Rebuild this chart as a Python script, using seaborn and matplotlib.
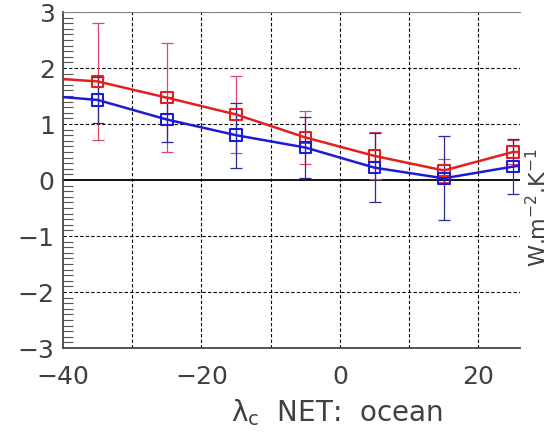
import matplotlib
matplotlib.use("Agg")
import matplotlib.pyplot as plt
import seaborn as sns
import pandas as pd
import numpy as np
from matplotlib.ticker import MultipleLocator

# ---- data ----
x_centers = [-35, -25, -15, -5, 5, 15, 25]
red_vals = [1.76, 1.47, 1.17, 0.76, 0.43, 0.17, 0.50]
red_err = [1.05, 0.97, 0.68, 0.47, 0.42, 0.20, 0.21]
blue_vals = [1.43, 1.08, 0.80, 0.58, 0.22, 0.03, 0.24]
blue_err = [0.41, 0.41, 0.58, 0.55, 0.62, 0.75, 0.49]
# points outside the visible window that the lines run to
x_outer = [-45, 35]
red_outer = [1.845, 0.50]
blue_outer = [1.53, 0.40]

x_ticks = [-40, -20, 0, 20]
y_ticks = [-3, -2, -1, 0, 1, 2, 3]

RED = "#e32020"
BLUE = "#1c1cd6"
RED_ERR = "#e0456a"
BLUE_ERR = "#2b2b95"
TXT = "#404040"

sns.set_theme(style="white")
plt.rcParams["font.family"] = ["DejaVu Sans"]
plt.rcParams["mathtext.fontset"] = "dejavusans"

line_x = [x_outer[0]] + x_centers + [x_outer[1]]
df_lines = pd.DataFrame({
    "x": line_x * 2,
    "y": [red_outer[0]] + red_vals + [red_outer[1]] + [blue_outer[0]] + blue_vals + [blue_outer[1]],
    "series": ["red"] * len(line_x) + ["blue"] * len(line_x),
})
df_pts = pd.DataFrame({
    "x": x_centers * 2,
    "y": red_vals + blue_vals,
    "err": red_err + blue_err,
    "series": ["red"] * len(x_centers) + ["blue"] * len(x_centers),
})

fig = plt.figure(figsize=(5.51, 4.33), dpi=100)
ax = fig.add_axes([63 / 551, 85 / 433, 457 / 551, 336 / 433])

# grid
for gx in [-30, -20, -10, 0, 10, 20]:
    ax.axvline(gx, color="black", lw=0.8, ls=(0, (3, 2)), zorder=1)
for gy in [-2, -1, 1, 2, 3]:
    ax.axhline(gy, color="black", lw=0.8, ls=(0, (3, 2)), zorder=1)
ax.axhline(0, color="black", lw=1.3, zorder=1)

# error bars
for s, ec in [("red", RED_ERR), ("blue", BLUE_ERR)]:
    d = df_pts[df_pts.series == s]
    ax.errorbar(d.x, d.y, yerr=d.err, fmt="none", ecolor=ec, elinewidth=0.9,
                capsize=4, capthick=0.9, zorder=2)

sns.lineplot(data=df_lines, x="x", y="y", hue="series", palette={"red": RED, "blue": BLUE},
             lw=1.8, legend=False, ax=ax, zorder=3, sort=False)
for s, c in [("red", RED), ("blue", BLUE)]:
    d = df_pts[df_pts.series == s]
    ax.scatter(d.x, d.y, marker="s", s=70, facecolors="none", edgecolors=c,
               linewidths=1.5, zorder=4)

ax.set_xlim(-40, 26)
ax.set_ylim(-3, 3)
ax.set_xticks(x_ticks)
ax.set_yticks(y_ticks)
ax.yaxis.set_minor_locator(MultipleLocator(0.1))
ax.tick_params(axis="y", which="major", direction="in", length=8, width=0.8,
               color="#555555", labelsize=18, pad=6, labelcolor=TXT)
ax.tick_params(axis="y", which="minor", direction="in", length=7, width=0.8,
               color="#555555", left=True)
ax.tick_params(axis="x", which="both", length=0, labelsize=18, pad=12, labelcolor=TXT)

for side in ["left", "bottom"]:
    ax.spines[side].set_color("#444444")
    ax.spines[side].set_linewidth(1.3)
ax.spines["top"].set_color("#888888")
ax.spines["top"].set_linewidth(0.8)
ax.spines["right"].set_visible(False)

ax.set_xlabel(r"λ$_{\rm c}$  NET:  ocean", fontsize=20, color=TXT)
ax.xaxis.set_label_coords(0.60, -0.145)
ax.set_ylabel(r"W.m$^{-2}$.K$^{-1}$", fontsize=16, color=TXT)
ax.yaxis.set_label_position("right")
ax.yaxis.set_label_coords(1.011, 0.417)

fig.savefig("out.png", dpi=100)
